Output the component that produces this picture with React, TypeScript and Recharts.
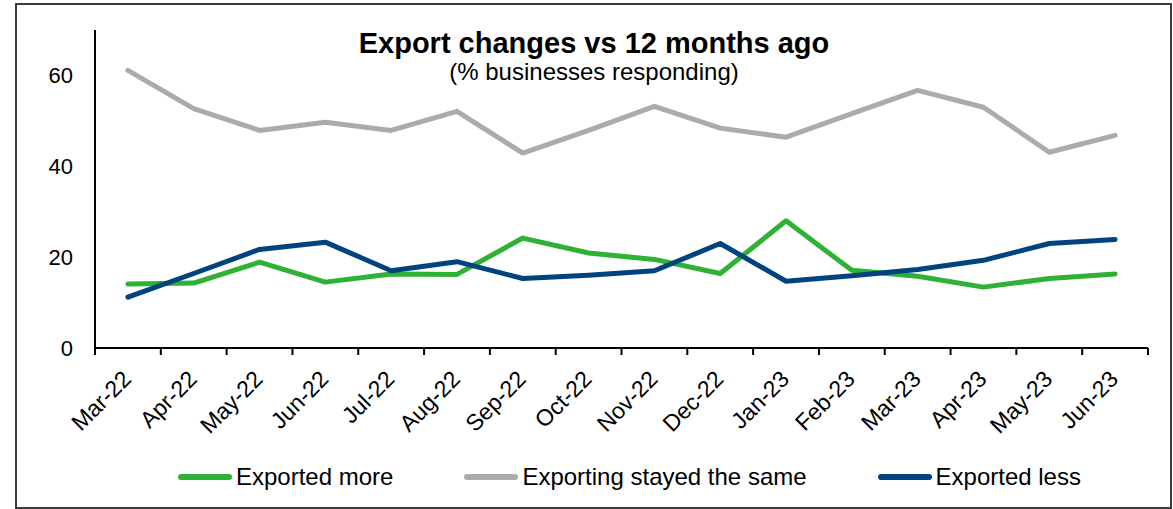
import { LineChart, Line, XAxis, YAxis, Legend } from 'recharts'

const months = [
  'Mar-22', 'Apr-22', 'May-22', 'Jun-22', 'Jul-22', 'Aug-22', 'Sep-22', 'Oct-22',
  'Nov-22', 'Dec-22', 'Jan-23', 'Feb-23', 'Mar-23', 'Apr-23', 'May-23', 'Jun-23',
]
const exportedMore = [14.1, 14.3, 18.9, 14.5, 16.3, 16.2, 24.2, 20.9, 19.5, 16.4, 28.0, 17.1, 15.8, 13.4, 15.3, 16.3]
const stayedSame = [61.1, 52.7, 47.9, 49.7, 47.9, 52.1, 42.9, 47.9, 53.2, 48.4, 46.4, 51.6, 56.7, 53.0, 43.1, 46.8]
const exportedLess = [11.2, 16.4, 21.7, 23.3, 17.0, 19.0, 15.3, 16.0, 17.0, 23.0, 14.7, 15.9, 17.3, 19.3, 23.0, 23.9]
const yTicks = [0, 20, 40, 60]

const series = [
  { key: 'more', name: 'Exported more', color: '#2eb135' },
  { key: 'same', name: 'Exporting stayed the same', color: '#aeaaaa' },
  { key: 'less', name: 'Exported less', color: '#00437f' },
]

const data = months.map((month, i) => ({
  idx: i,
  month,
  more: exportedMore[i],
  same: stayedSame[i],
  less: exportedLess[i],
}))

// excel puts the x tick marks between categories
const boundaries = months.map((_, i) => i - 0.5).concat(months.length - 0.5)

const FONT = '"Liberation Sans", Arial, sans-serif'

// eslint-disable-next-line @typescript-eslint/no-explicit-any
function MonthTick({ x, y, payload }: any) {
  const tx = x - 7
  return (
    <text
      x={tx}
      y={y}
      dy="0.71em"
      transform={`rotate(-45 ${tx} ${y})`}
      textAnchor="end"
      fontSize={23}
      fontFamily={FONT}
      fill="#000"
    >
      {payload.value}
    </text>
  )
}

function LegendRow() {
  return (
    <div style={{ display: 'flex', alignItems: 'center', height: 30, paddingLeft: 178, fontFamily: FONT, fontSize: 24, color: '#000' }}>
      {series.map((s) => (
        <div key={s.key} style={{ display: 'flex', alignItems: 'center', marginRight: 71 }}>
          <span style={{ display: 'inline-block', width: 54, height: 6, borderRadius: 3, background: s.color, marginRight: 4 }} />
          <span>{s.name}</span>
        </div>
      ))}
    </div>
  )
}

const titleStyle = {
  position: 'absolute' as const,
  left: 294,
  width: 600,
  textAlign: 'center' as const,
  whiteSpace: 'nowrap' as const,
  fontFamily: FONT,
  color: '#000',
  pointerEvents: 'none' as const,
}

export default function App() {
  return (
    <div style={{ position: 'absolute', left: 0, top: 0, width: 1173, height: 509, background: '#fff' }}>
      <div
        style={{
          position: 'absolute',
          left: 15,
          top: 3,
          width: 1157,
          height: 506,
          boxSizing: 'border-box',
          border: '2px solid #3c3c3c',
        }}
      />
      <LineChart width={1173} height={509} data={data} margin={{ top: 30, right: 25, left: 35, bottom: 17 }}>
        <XAxis
          xAxisId="axis"
          type="number"
          dataKey="idx"
          domain={[-0.5, months.length - 0.5]}
          ticks={boundaries}
          tickFormatter={() => ''}
          tickSize={7}
          axisLine={{ stroke: '#000', strokeWidth: 2 }}
          tickLine={{ stroke: '#000', strokeWidth: 2 }}
          height={1}
          allowDataOverflow
        />
        <XAxis
          xAxisId="labels"
          dataKey="month"
          scale="band"
          interval={0}
          axisLine={false}
          tickLine={false}
          tickSize={0}
          tickMargin={20}
          height={113}
          tick={<MonthTick />}
        />
        <YAxis
          domain={[0, 70]}
          ticks={yTicks}
          width={60}
          tickLine={false}
          tickMargin={16}
          axisLine={{ stroke: '#000', strokeWidth: 2 }}
          tick={{ fontSize: 22, fill: '#000', fontFamily: FONT }}
        />
        {series.map((s) => (
          <Line
            key={s.key}
            xAxisId="axis"
            type="linear"
            dataKey={s.key}
            name={s.name}
            stroke={s.color}
            strokeWidth={5}
            strokeLinecap="round"
            strokeLinejoin="round"
            dot={false}
            activeDot={false}
            isAnimationActive={false}
          />
        ))}
        <Legend verticalAlign="bottom" content={<LegendRow />} wrapperStyle={{ left: 0, width: 1173, bottom: 17 }} />
      </LineChart>
      <div style={{ ...titleStyle, top: 29, fontWeight: 'bold', fontSize: 29, lineHeight: '29px' }}>
        Export changes vs 12 months ago
      </div>
      <div style={{ ...titleStyle, top: 60, fontSize: 24, lineHeight: '24px' }}>
        (% businesses responding)
      </div>
    </div>
  )
}
